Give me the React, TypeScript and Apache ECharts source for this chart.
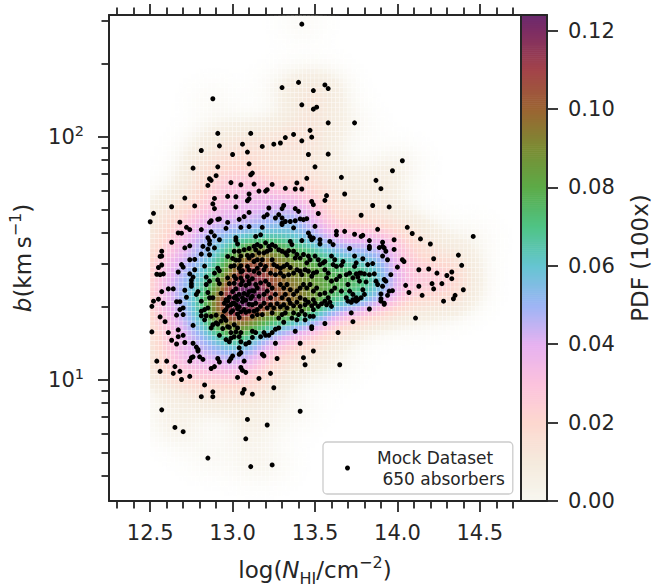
import React, { useEffect, useRef } from 'react';
import * as echarts from 'echarts';

// ---------------- data ----------------
// [log N_HI (cm^-2), b (km/s)]
const ABSORBERS: [number, number][] = [
  [13.42,290],[13.40,167],[13.30,159],[12.88,143],[13.42,135],[13.47,106],[12.91,103],[13.11,103],[13.37,102],[13.32,99],
  [13.42,96],[13.29,94],[13.25,93],[13.18,91],[13.06,93],[12.92,91.5],[12.81,87.6],[13.09,86.3],[13.00,84.3],[13.46,84.3],
  [13.10,77.2],[12.91,75],[12.76,74.1],[13.12,70.7],[13.11,69.6],[12.90,69],[12.86,67],[12.87,66],[12.85,62.9],[12.99,64.6],
  [13.05,63.3],[13.13,63.7],[13.24,63.5],[13.39,64.4],[13.45,67.3],[13.32,61.2],[13.38,60.8],[13.42,60.8],[13.21,60.4],
  [13.49,154.5],[13.56,163],[13.58,157.5],[13.49,129.6],[13.51,132],[13.58,113.8],[13.74,113.8],[13.48,99.4],[13.58,84.6],[13.50,75],
  [14.03,79.5],[13.97,72.3],[13.66,67.9],[13.87,66],[13.90,61],
  [12.71,55.8],[12.63,51.4],[12.52,48.3],[12.50,44.6],[12.77,51.8],[12.88,52.8],[12.89,50.5],[12.89,55.6],[12.97,56.7],[13.02,56.5],
  [13.10,58],[13.09,54.4],[13.10,55.4],[13.02,51.3],[13.10,48.7],[12.92,45.8],[12.91,45.6],[12.87,45],[12.86,44.3],[12.68,44.4],
  [12.97,44.3],[12.96,41.9],[13.04,45.6],[13.07,46.8],[13.05,42.3],[13.10,42.6],[12.72,42.3],[12.74,41.4],[12.67,40.1],[12.69,40],
  [12.81,41.4],[12.87,40.5],[12.89,39],[12.85,38.3],[12.86,37.3],[12.86,36.1],[13.02,38.3],[13.02,37.4],[13.03,36.1],[12.63,36.7],
  [12.71,34.8],[12.74,35.5],[12.82,35.3],[12.92,37.6],[12.89,34.8],[12.85,34.4],[13.01,33.7],[13.04,33.7],[13.07,34.2],[13.10,34.6],
  [12.57,33.7],[12.57,32.2],[12.56,32.1],[12.86,32.6],[12.81,32.8],[12.74,31.1],[12.77,31.2],[12.97,32.1],[13.00,31.5],[13.02,31],
  [13.04,31],[13.05,32.2],[13.09,32.4],[13.12,32.4],[12.69,29.7],[12.70,29],[12.83,29.3],[12.57,29.6],[12.55,28.9],[12.99,29.2],
  [13.01,29.4],[13.04,28.7],[13.05,29.4],[13.09,29.2],[13.10,28.2],[13.05,27.7],[13.06,28],[12.91,28.7],[12.92,28],[12.89,27.4],
  [12.54,27.1],[12.56,27],[12.58,27.2],[12.67,27.7],[12.74,27.2],[12.77,28.3],[12.76,26.4],[12.84,26.4],[12.86,25.4],[12.84,24.6],
  [12.75,25.6],[12.75,24.8],[12.75,24.2],[12.97,26.2],[13.01,26.6],[13.02,26],[13.01,24.9],[12.98,24.8],[13.05,26.2],[13.06,25.4],
  [13.09,26.5],[13.12,26],[13.10,24.8],[13.08,24.4],[13.05,24.6],[12.91,25.7],[12.92,24.8],[12.57,23],[12.61,23.6],[12.64,23.6],
  [12.71,23.3],[12.79,23],[12.78,22.4],[12.85,22.8],[12.88,21.7],[12.86,21.7],[12.93,22.6],[13.00,23],[13.02,23.6],[13.04,22.4],
  [13.01,21.7],[13.03,21.3],[13.06,21.7],[13.09,22.3],[13.10,23],[13.12,23.2],[12.52,21],[12.55,21.4],[12.58,20.6],[12.66,20.9],
  [12.68,20.9],[12.72,21.8],[12.81,21],[12.97,21],[13.00,20.6],
  [12.51,20],[12.68,19.4],[12.70,19.7],[12.70,18.5],[12.66,18.4],[12.56,18.1],[12.59,17.3],[12.51,15.7],[12.61,15.6],[12.67,16],
  [12.67,15],[12.70,15.2],[12.63,14.5],[12.66,14],[12.71,14.2],[12.76,14.1],[12.76,16.7],[12.81,19.1],[12.81,18.3],[12.83,19.4],
  [12.85,19.7],[12.84,18.3],[12.83,17.6],[12.87,18.2],[12.90,18.4],[12.90,17.1],[12.87,16.3],[12.88,16.8],[12.91,16.9],[12.93,17.4],
  [12.94,16.2],[12.92,15.2],[12.94,18.2],[12.95,19.1],[12.96,19.4],[12.97,20],[12.99,20.3],[13.01,20.6],[13.02,20.3],[13.04,19.9],
  [13.07,19.4],[13.08,18.9],[13.10,19.1],[12.95,17.9],[12.96,17.5],[12.97,16.5],[12.98,16.4],[12.99,15.6],[13.01,16.8],[13.03,16.3],
  [13.02,15.7],[13.05,15.6],[13.04,15],[12.96,14.6],[12.98,14.3],[12.99,14.8],[13.01,15],[13.05,14.3],[13.08,14],[13.04,13.5],
  [13.05,12.9],[13.04,12.7],[13.10,14.2],[12.78,13.6],[12.79,13.3],[12.79,13.1],[12.75,12.3],[12.76,12.4],[12.74,11.9],[12.80,12.4],
  [12.82,12.1],[12.91,12.2],[12.92,11.8],[12.98,11.9],[12.99,12.2],[13.00,12.5],[13.07,11.9],[12.54,11.9],[12.60,11.9],[12.65,11.3],
  [12.56,10.8],[12.64,10.6],[12.68,10.8],[12.74,10.3],[12.69,10],[12.87,11.1],[12.89,11.3],[13.05,11.2],[13.06,10.9],[13.08,10.7],
  [13.03,10.2],[12.83,9.5],[12.88,8.9],[12.88,8.5],[12.81,8.5],[13.07,9.1],[13.06,8.8],[13.12,8.7],[12.57,7.5],[13.09,6.85],
  [12.65,6.35],[12.70,6.1],[13.08,5.7],[12.85,4.75],[13.11,4.38],
  [13.00,19.2],[13.03,18.6],[13.06,20.9],[12.98,21.8],[13.05,19.0],[13.08,21.2],[13.02,22.0],[12.95,20.6],[13.10,20.4],[13.04,18.0],
  [12.99,18.9],[13.07,22.6],[13.11,21.6],[12.96,21.3],[13.03,19.6],
  [13.13,19.1],[13.15,19.4],[13.14,20.6],[13.12,20.3],[13.17,20],[13.19,20.6],[13.21,19.7],[13.18,18.5],[13.15,18.5],[13.12,18.2],
  [13.23,20.3],[13.25,19.7],[13.24,18.8],[13.27,20.5],[13.29,19.9],[13.31,20.3],[13.33,19.7],[13.32,18.8],[13.30,18.5],[13.28,17.9],
  [13.35,20.6],[13.37,20.1],[13.39,20.8],[13.41,20],[13.42,19.1],[13.40,18.5],[13.37,18.8],[13.36,17.9],[13.39,17.6],[13.44,20.3],
  [13.46,20.8],[13.48,20.1],[13.50,20.6],[13.52,20],[13.54,20.5],[13.56,21],[13.57,20.3],[13.59,20.8],[13.44,18.5],[13.44,17.6],
  [13.47,18.2],[13.49,18.2],[13.49,19.4],[13.60,20],[13.70,21],[13.72,20.8],[13.75,21],[13.72,18.8],[13.73,17.3],[13.56,17],
  [13.64,15.6],[13.48,16.5],[13.48,16.2],[13.38,15.8],[13.41,14.1],[13.49,13.1],[13.31,17.2],[13.28,16.3],[13.26,16.1],[13.24,15.6],
  [13.22,15.2],[13.20,15.2],[13.19,15.6],[13.17,15],[13.14,15.6],[13.12,15.8],[13.12,14.9],[13.26,14.1],[13.18,12.7],[13.19,12.5],
  [13.27,12.2],[13.43,12.3],[13.44,11.5],[13.65,11.5],[13.23,10.6],[13.16,10.1],[13.25,9.25],[13.41,7.4],[13.21,6.5],[13.24,4.45],
  [13.16,59.6],[13.20,59.6],[13.68,58],[13.57,57.1],[13.56,54.6],[13.48,54],[13.49,52.4],[13.31,52],[13.30,50.5],[13.28,47.7],
  [13.30,46.2],[13.26,46.2],[13.22,50.8],[13.21,47.7],[13.38,50.5],[13.40,49.2],[13.52,48.2],[13.19,46.7],[13.45,45.9],[13.43,45.5],
  [13.41,45.8],[13.38,45],[13.35,44.7],[13.32,44.7],[13.30,44],[13.30,43.4],[13.50,42.7],[13.37,42.1],[13.18,42.3],[13.17,39.4],
  [13.14,38.8],[13.63,40.7],[13.63,39.4],[13.68,40.7],[13.74,39.6],[13.78,38.8],[13.46,40.1],[13.47,38.8],[13.48,37.6],[13.49,38.2],
  [13.35,37],[13.36,35.9],[13.42,37.3],[13.53,37.6],[13.53,36.1],[13.59,37],[13.61,35.9],[13.71,34.6],[13.15,35.9],[13.17,35.3],
  [13.20,36.5],[13.22,35.3],[13.24,35.9],[13.26,35.3],[13.23,34.2],[13.21,33.7],[13.19,33.2],[13.16,33.2],[13.14,34.2],[13.13,35.3],
  [13.28,34.2],[13.30,33.7],[13.32,33.2],[13.34,33.9],[13.33,32.5],[13.37,33.7],[13.39,32.7],[13.38,31.6],[13.41,31.6],[13.43,32.7],
  [13.46,32.2],[13.47,31.1],[13.45,30.2],[13.50,32.2],[13.52,31.1],[13.53,29.7],[13.55,30.2],[13.56,30.6],[13.60,32.2],[13.62,31.1],
  [13.61,29.7],[13.63,29.2],[13.67,30.6],[13.66,29.5],[13.74,32.2],[13.75,30.2],[13.74,29.2],[13.10,31.6],[13.13,30.6],[13.15,31.1],
  [13.18,31.1],[13.17,29.7],[13.20,29.2],[13.19,28.3],[13.15,28.7],[13.13,27.9],[13.16,27.4],[13.24,31.1],[13.25,29.7],[13.27,29.2],
  [13.29,28.7],[13.31,29.2],[13.33,29.7],[13.35,28.9],[13.23,27.4],[13.26,27],[13.29,27.4],[13.31,26.6],[13.34,27],[13.37,27.4],
  [13.39,28.3],[13.41,27.9],[13.42,27],[13.44,28.3],[13.46,27.9],[13.49,27.4],[13.51,27.7],[13.48,26.6],[13.56,28.3],[13.58,27.4],
  [13.57,26.2],[13.60,25.4],[13.63,25.8],[13.65,26.6],[13.69,27],[13.71,27.4],[13.75,27.2],[13.77,27.4],[13.76,26.4],[13.73,26.2],
  [13.70,24.6],[13.71,23.1],[13.73,22.4],[13.75,21.7],[13.10,25.4],[13.14,24.6],[13.17,25],[13.15,23.8],[13.13,23.1],[13.12,22],
  [13.16,22],[13.20,25.4],[13.22,24.6],[13.24,23.8],[13.21,23.1],[13.19,22.4],[13.23,21.7],[13.26,22.4],[13.29,24.6],[13.31,23.8],
  [13.33,24.6],[13.35,23.4],[13.32,22.4],[13.30,21.7],[13.34,21.3],[13.37,22.4],[13.39,23.1],[13.41,23.8],[13.43,24.6],[13.45,23.8],
  [13.47,24.6],[13.49,23.1],[13.51,23.8],[13.53,22.4],[13.56,22.7],[13.58,21.7],[13.60,23.1],[13.62,23.8],[13.41,21.7],[13.44,21.3],
  [13.49,21.3],[13.66,23.1],[13.69,21.7],[13.73,21.3],[13.76,21.3],
  [13.85,52],[13.95,51.3],[13.78,47.4],[14.06,42.3],[14.09,39.9],[13.88,41.5],[14.14,37.9],[14.46,38.8],[13.79,39.2],[13.83,37.3],
  [13.83,35.3],[13.83,34.6],[13.91,36.7],[13.91,35.3],[13.89,34.9],[13.92,34.8],[13.93,33.7],[13.98,37.6],[13.98,34.3],[14.20,36.1],
  [13.91,32.2],[13.94,31.1],[13.79,31.4],[13.82,29.7],[13.85,30],[14.03,31.1],[14.04,30.6],[14.22,31.4],[14.37,32.5],[14.39,29.5],
  [14.00,29],[14.13,28.3],[14.19,28.5],[14.24,27.4],[14.30,26.8],[14.33,27.7],[14.33,26],[13.78,27.4],[13.80,27.2],[13.83,27],
  [13.86,27.2],[13.96,27],[13.77,25.4],[13.81,25.2],[13.87,25.4],[13.92,25.8],[13.93,25.4],[13.88,24.6],[13.91,24.2],[14.05,24.4],
  [14.13,24.2],[14.21,24.8],[14.22,23.6],[14.27,24.8],[14.40,23.4],[13.79,23.4],[13.80,22.4],[13.78,21.7],[13.97,23.2],[13.95,23.1],
  [13.94,22.2],[14.07,22.8],[13.90,22.5],[13.90,21.5],[14.15,22.2],[14.35,22.2],[14.34,21.5],[14.28,21],[13.92,20.6],
  [13.83,19.5],[13.90,21],[13.92,20.4],[14.11,17.9],
];

const X_MAJOR_TICKS = [12.5, 13.0, 13.5, 14.0, 14.5];
const X_MINOR_TICKS = [12.3, 12.4, 12.6, 12.7, 12.8, 12.9, 13.1, 13.2, 13.3, 13.4, 13.6, 13.7, 13.8, 13.9, 14.1, 14.2, 14.3, 14.4, 14.6, 14.7];
const B_MAJOR_TICKS = [10, 100];
const B_MINOR_TICKS = [4, 5, 6, 7, 8, 9, 20, 30, 40, 50, 60, 70, 80, 90, 200, 300];
const PDF_TICKS = [0, 0.02, 0.04, 0.06, 0.08, 0.1, 0.12];
const PDF_MAX = 0.124;
const CMAP_VALUES = [0, 0.01, 0.02, 0.03, 0.04, 0.05, 0.06, 0.07, 0.08, 0.09, 0.1, 0.11, 0.12, 0.124];
const CMAP_COLORS = ['#f7f7ef', '#f5eadd', '#fdd8cf', '#fcc2dd', '#e6b1f0', '#9db5f5', '#66c5d2', '#4fc486', '#5cab48', '#7b8c33', '#9b6432', '#a3444a', '#7d2d63', '#6b2a6e'];
const LEGEND_LINES = ['Mock Dataset', '\u00a0650 absorbers'];

// axis ranges
const X_MIN = 12.25, X_MAX = 14.75;
const LOGB_MIN = 0.5, LOGB_MAX = 2.5;

// density grid: Gaussian KDE of the absorbers, shown as probability per bin x 100
const PDF_X0 = 12.5, PDF_X1 = 14.75, PDF_DX = 0.025, PDF_DY = 0.02;
const PDF_BIN_AREA = 0.03 * 0.022;
const BW_X = 0.12, BW_Y = 0.065;

const FONT = '"DejaVu Sans", sans-serif';
const INK = '#262626';

function hex(c: string) {
  return [parseInt(c.slice(1, 3), 16), parseInt(c.slice(3, 5), 16), parseInt(c.slice(5, 7), 16)];
}
const CMAP_RGB = CMAP_COLORS.map(hex);
function cmap(v: number) {
  const t = Math.max(0, Math.min(PDF_MAX, v));
  let i = 0;
  while (i < CMAP_VALUES.length - 2 && t > CMAP_VALUES[i + 1]) i++;
  const f = (t - CMAP_VALUES[i]) / (CMAP_VALUES[i + 1] - CMAP_VALUES[i]);
  const a = CMAP_RGB[i], b = CMAP_RGB[i + 1];
  return `rgb(${Math.round(a[0] + (b[0] - a[0]) * f)},${Math.round(a[1] + (b[1] - a[1]) * f)},${Math.round(a[2] + (b[2] - a[2]) * f)})`;
}

function buildPdfCells() {
  const pts = ABSORBERS.map(([n, b]) => [n, Math.log10(b)]);
  const nx = Math.round((PDF_X1 - PDF_X0) / PDF_DX);
  const ny = Math.round((LOGB_MAX - LOGB_MIN) / PDF_DY);
  const xs = Array.from({ length: nx }, (_, i) => PDF_X0 + (i + 0.5) * PDF_DX);
  const ys = Array.from({ length: ny }, (_, j) => LOGB_MIN + (j + 0.5) * PDF_DY);
  const kx = pts.map(([px]) => Float64Array.from(xs, (x) => Math.exp(-0.5 * ((x - px) / BW_X) ** 2)));
  const ky = pts.map(([, py]) => Float64Array.from(ys, (y) => Math.exp(-0.5 * ((y - py) / BW_Y) ** 2)));
  const norm = (100 * PDF_BIN_AREA) / (2 * Math.PI * BW_X * BW_Y * pts.length);
  const cells: number[][] = [];
  for (let i = 0; i < nx; i++) {
    for (let j = 0; j < ny; j++) {
      let s = 0;
      for (let k = 0; k < pts.length; k++) s += kx[k][i] * ky[k][j];
      const v = s * norm;
      if (v > 3e-4) cells.push([xs[i], ys[j], v]);
    }
  }
  return cells;
}

function buildColorbar() {
  const step = 0.0005;
  const out: number[][] = [];
  for (let v = 0; v < PDF_MAX - 1e-9; v += step) out.push([0, v, Math.min(step, PDF_MAX - v)]);
  return out;
}

export default function App() {
  const ref = useRef<HTMLDivElement>(null);
  useEffect(() => {
    if (!ref.current) return;
    const chart = echarts.init(ref.current, undefined, { renderer: 'svg' });
    const cells = buildPdfCells();
    const cbar = buildColorbar();
    const tickStyle = { color: INK, width: 1.8 };
    const lineStyle = { color: INK, width: 2 };
    const baseX = { gridIndex: 0, type: 'value', min: X_MIN, max: X_MAX, splitLine: { show: false } };
    const baseY = { gridIndex: 0, type: 'value', min: LOGB_MIN, max: LOGB_MAX, splitLine: { show: false } };
    const option: any = {
      animation: false,
      backgroundColor: '#ffffff',
      grid: [
        { left: 109, top: 15, width: 412, height: 486, containLabel: false, outerBoundsMode: 'none' },
        { left: 521, top: 15, width: 26, height: 486, containLabel: false, outerBoundsMode: 'none' },
      ],
      xAxis: [
        {
          ...baseX, position: 'bottom',
          axisLine: { show: true, onZero: false, lineStyle },
          axisTick: { show: true, customValues: X_MAJOR_TICKS, length: 11, lineStyle: tickStyle },
          axisLabel: { show: true, customValues: X_MAJOR_TICKS, formatter: (v: number) => v.toFixed(1), margin: 21, fontSize: 21, color: INK, fontFamily: FONT },
          name: '{n|log(}{i|N}{s|HI}{n|/cm}{p|\u22122}{n|)}',
          nameLocation: 'middle', nameGap: 53,
          nameTextStyle: {
            fontSize: 23, color: INK, fontFamily: FONT,
            rich: {
              n: { fontSize: 23, color: INK, fontFamily: FONT },
              i: { fontSize: 23, color: INK, fontFamily: FONT, fontStyle: 'italic' },
              s: { fontSize: 16, color: INK, fontFamily: FONT, padding: [16, 0, 0, 0] },
              p: { fontSize: 16, color: INK, fontFamily: FONT, padding: [0, 0, 15, 0] },
            },
          },
        },
        { ...baseX, position: 'bottom', axisLine: { show: false, onZero: false }, axisTick: { show: true, customValues: X_MINOR_TICKS, length: 7.5, lineStyle: tickStyle }, axisLabel: { show: false } },
        { ...baseX, position: 'top', axisLine: { show: true, onZero: false, lineStyle }, axisTick: { show: true, customValues: X_MAJOR_TICKS, length: 11, lineStyle: tickStyle }, axisLabel: { show: false } },
        { ...baseX, position: 'top', axisLine: { show: false, onZero: false }, axisTick: { show: true, customValues: X_MINOR_TICKS, length: 7.5, lineStyle: tickStyle }, axisLabel: { show: false } },
        { gridIndex: 1, type: 'value', min: 0, max: 1, position: 'bottom', z: 10, axisLine: { show: true, onZero: false, lineStyle }, axisTick: { show: false }, axisLabel: { show: false }, splitLine: { show: false } },
        { gridIndex: 1, type: 'value', min: 0, max: 1, position: 'top', z: 10, axisLine: { show: true, onZero: false, lineStyle }, axisTick: { show: false }, axisLabel: { show: false }, splitLine: { show: false } },
      ],
      yAxis: [
        {
          ...baseY, position: 'left',
          axisLine: { show: true, onZero: false, lineStyle },
          axisTick: { show: true, customValues: B_MAJOR_TICKS.map(Math.log10), length: 11, lineStyle: tickStyle },
          axisLabel: {
            show: true, customValues: B_MAJOR_TICKS.map(Math.log10), margin: 25,
            formatter: (v: number) => `{m|10}{e|${Math.round(v)}}`,
            rich: {
              m: { fontSize: 21, color: INK, fontFamily: FONT },
              e: { fontSize: 14.5, color: INK, fontFamily: FONT, padding: [0, 0, 12, 0] },
            },
          },
          name: '{i|b}{n|(km\u2009s}{p|\u22121}{n|)}',
          nameLocation: 'middle', nameGap: 71,
          nameTextStyle: {
            fontSize: 23, color: INK, fontFamily: FONT,
            rich: {
              n: { fontSize: 23, color: INK, fontFamily: FONT },
              i: { fontSize: 23, color: INK, fontFamily: FONT, fontStyle: 'italic' },
              p: { fontSize: 16, color: INK, fontFamily: FONT, padding: [0, 0, 15, 0] },
            },
          },
        },
        { ...baseY, position: 'left', axisLine: { show: false, onZero: false }, axisTick: { show: true, customValues: B_MINOR_TICKS.map(Math.log10), length: 7.5, lineStyle: tickStyle }, axisLabel: { show: false } },
        { ...baseY, position: 'right', axisLine: { show: true, onZero: false, lineStyle }, axisTick: { show: false }, axisLabel: { show: false } },
        {
          gridIndex: 1, type: 'value', min: 0, max: PDF_MAX, position: 'right', z: 10,
          axisLine: { show: true, onZero: false, lineStyle },
          axisTick: { show: true, customValues: PDF_TICKS, length: 11, lineStyle: tickStyle },
          axisLabel: { show: true, customValues: PDF_TICKS, formatter: (v: number) => v.toFixed(2), margin: 21, fontSize: 21, color: INK, fontFamily: FONT },
          splitLine: { show: false },
          name: 'PDF (100x)', nameLocation: 'middle', nameGap: 81,
          nameTextStyle: { fontSize: 23, color: INK, fontFamily: FONT },
        },
        { gridIndex: 1, type: 'value', min: 0, max: PDF_MAX, position: 'left', z: 10, axisLine: { show: true, onZero: false, lineStyle }, axisTick: { show: false }, axisLabel: { show: false }, splitLine: { show: false } },
      ],
      legend: {
        show: true, left: 323, top: 442, orient: 'vertical',
        padding: [5, 8, 5, 22], itemWidth: 49, itemHeight: 5, icon: 'circle',
        selectedMode: false,
        data: [{ name: 'Mock Dataset' }],
        formatter: () => LEGEND_LINES.join('\n'),
        textStyle: { fontSize: 17, lineHeight: 21, color: INK, fontFamily: FONT },
        itemStyle: { color: '#000000', opacity: 1 },
        backgroundColor: 'rgba(255,255,255,0.8)', borderColor: '#cccccc', borderWidth: 1.3, borderRadius: 4,
      },
      series: [
        {
          type: 'custom', name: 'pdf', xAxisIndex: 0, yAxisIndex: 0, z: 1, silent: true, progressive: 0,
          data: cells,
          encode: { x: 0, y: 1 },
          renderItem: (params: any, api: any) => {
            const cx = api.value(0), cy = api.value(1), v = api.value(2);
            const a = api.coord([cx - PDF_DX / 2, cy + PDF_DY / 2]);
            const b = api.coord([cx + PDF_DX / 2, cy - PDF_DY / 2]);
            return {
              type: 'rect',
              shape: { x: a[0], y: a[1], width: b[0] - a[0] - 0.35, height: b[1] - a[1] - 0.35 },
              style: { fill: cmap(v), opacity: Math.min(1, v / 0.006) },
            };
          },
        },
        {
          type: 'scatter', name: 'Mock Dataset', xAxisIndex: 0, yAxisIndex: 0, z: 3,
          symbol: 'circle', symbolSize: 5,
          itemStyle: { color: '#000000', opacity: 1 },
          data: ABSORBERS.map(([n, b]) => [n, Math.log10(b)]),
        },
        {
          type: 'custom', name: 'colorbar', xAxisIndex: 4, yAxisIndex: 3, z: 1, silent: true, progressive: 0,
          data: cbar,
          encode: { x: 0, y: 1 },
          renderItem: (params: any, api: any) => {
            const v = api.value(1), h = api.value(2);
            const a = api.coord([0, v + h]);
            const b = api.coord([1, v]);
            return {
              type: 'rect',
              shape: { x: a[0], y: a[1], width: b[0] - a[0], height: b[1] - a[1] + 0.6 },
              style: { fill: cmap(v + h / 2) },
            };
          },
        },
      ],
    };
    chart.setOption(option);
    return () => chart.dispose();
  }, []);
  return <div ref={ref} style={{ position: 'fixed', left: 0, top: 0, width: 653, height: 588 }} />;
}
